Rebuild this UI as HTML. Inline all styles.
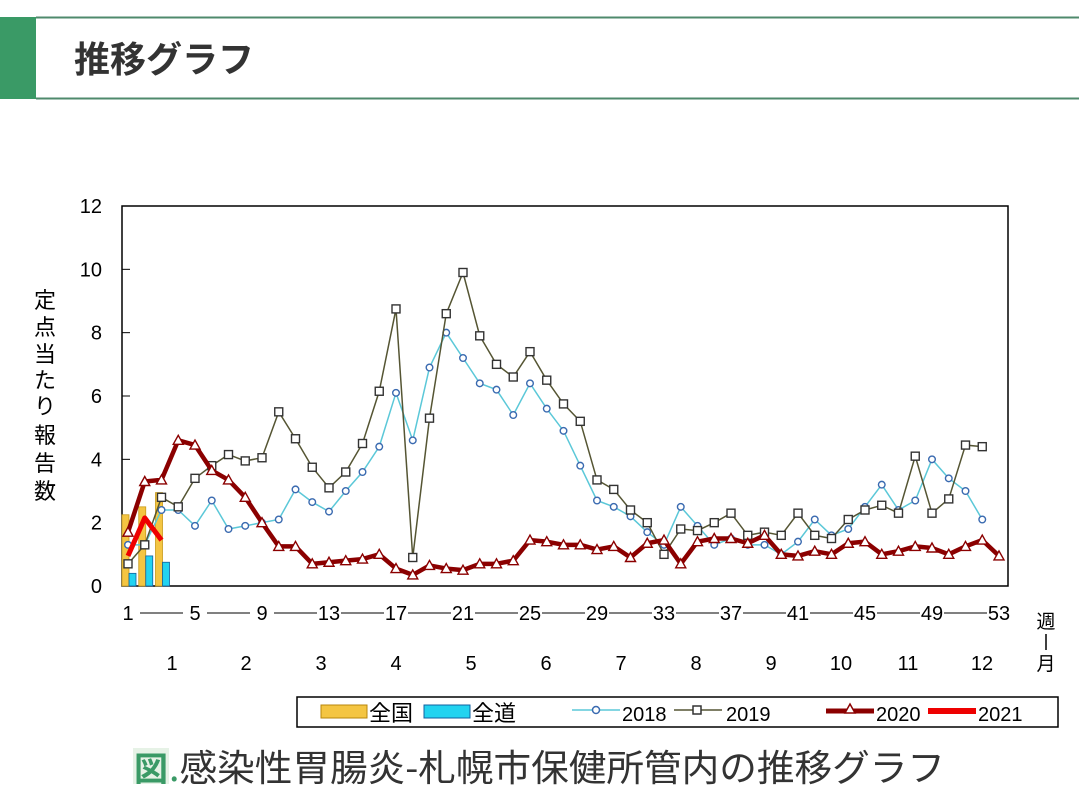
<!DOCTYPE html>
<html><head><meta charset="utf-8"><style>
body{margin:0;background:#fff;width:1079px;height:805px;overflow:hidden;font-family:"Liberation Sans","Noto Sans CJK JP",sans-serif}
</style></head><body>
<svg id="s" width="1079" height="805" xmlns="http://www.w3.org/2000/svg" font-family="Liberation Sans, Noto Sans CJK JP, sans-serif">
<rect x="0" y="17" width="36" height="82" fill="#3a9a66"/>
<line x1="36" y1="17.5" x2="1079" y2="17.5" stroke="#4f8a6c" stroke-width="2"/>
<line x1="36" y1="98.5" x2="1079" y2="98.5" stroke="#4f8a6c" stroke-width="2"/>
<text x="74" y="72" font-size="36" font-weight="bold" fill="#333" font-family="Noto Sans CJK JP, sans-serif">推移グラフ</text>
<rect x="122" y="206" width="886" height="380" fill="#fff" stroke="#000" stroke-width="1.5"/>
<g id="g"></g>
<text x="1046" y="628" font-size="19" text-anchor="middle" font-family="Noto Sans CJK JP, sans-serif">週</text>
<line x1="1046" y1="634" x2="1046" y2="650" stroke="#000" stroke-width="1.5"/>
<text x="1046" y="670" font-size="19" text-anchor="middle" font-family="Noto Sans CJK JP, sans-serif">月</text>
<g font-size="22" font-family="Noto Sans CJK JP, sans-serif" text-anchor="middle">
<text x="45" y="308">定</text><text x="45" y="335">点</text><text x="45" y="362">当</text><text x="45" y="388">た</text><text x="45" y="414">り</text><text x="45" y="443">報</text><text x="45" y="471">告</text><text x="45" y="499">数</text>
</g>
<rect x="297" y="697" width="761" height="30" fill="#fff" stroke="#000" stroke-width="1.5"/>
<rect x="321" y="705" width="46" height="13" fill="#f4c542" stroke="#b8860b"/>
<text x="369" y="721" font-size="22" font-family="Noto Sans CJK JP, sans-serif">全国</text>
<rect x="424" y="705" width="46" height="13" fill="#22d3f0" stroke="#1060a0"/>
<text x="472" y="721" font-size="22" font-family="Noto Sans CJK JP, sans-serif">全道</text>
<line x1="572" y1="710" x2="620" y2="710" stroke="#5bc8d8" stroke-width="1.5"/><circle cx="596" cy="710" r="3.5" fill="#fff" stroke="#3a6ab0" stroke-width="1.5"/>
<text x="622" y="721" font-size="20">2018</text>
<line x1="674" y1="710" x2="722" y2="710" stroke="#555533" stroke-width="1.5"/><rect x="693" y="706" width="8" height="8" fill="#fff" stroke="#333" stroke-width="1.5"/>
<text x="726" y="721" font-size="20">2019</text>
<line x1="826" y1="711" x2="874" y2="711" stroke="#8b0000" stroke-width="5"/><path d="M850 704 L855 713 L845 713Z" fill="#fff" stroke="#8b0000" stroke-width="1.5"/>
<text x="876" y="721" font-size="20">2020</text>
<line x1="928" y1="711" x2="976" y2="711" stroke="#ee0000" stroke-width="6"/>
<text x="978" y="721" font-size="20">2021</text>
<rect x="133" y="748" width="36" height="36" fill="#e6f2e6"/>
<text x="134" y="781" font-size="34" font-weight="bold" fill="#3a9a66" font-family="Noto Sans CJK JP, sans-serif">図</text>
<text x="169" y="781" font-size="37" fill="#333" font-family="Noto Sans CJK JP, sans-serif" textLength="776" lengthAdjust="spacingAndGlyphs"><tspan fill="#3a9a66">.</tspan>感染性胃腸炎-札幌市保健所管内の推移グラフ</text>
</svg>
<script>
var g=document.getElementById('g'),h='';
function X(w){return 128+(w-1)*16.75}
function Y(v){return 586-v*31.667}
for(var i=0;i<=12;i+=2){var y=Y(i);h+='<text x="102" y="'+(y+7)+'" font-size="20" text-anchor="end">'+i+'</text>';if(i>0&&i<12)h+='<line x1="122" y1="'+y+'" x2="130" y2="'+y+'" stroke="#000"/>';}
var wk=[1,5,9,13,17,21,25,29,33,37,41,45,49,53];
for(var i=0;i<wk.length;i++){var x=X(wk[i]);h+='<text x="'+x+'" y="620" font-size="20" text-anchor="middle">'+wk[i]+'</text>';if(i<wk.length-1)h+='<line x1="'+(x+12)+'" y1="613" x2="'+(X(wk[i+1])-12)+'" y2="613" stroke="#000"/>';}
var mx=[172,246,321,396,471,546,621,696,771,841,908,982];
for(var i=0;i<12;i++)h+='<text x="'+mx[i]+'" y="670" font-size="20" text-anchor="middle">'+(i+1)+'</text>';
var nb=[2.25,2.5,2.95],db=[0.4,0.95,0.75];
for(var i=0;i<3;i++){var x=X(i+1);h+='<rect x="'+(x-6)+'" y="'+Y(nb[i])+'" width="7" height="'+(nb[i]*31.667)+'" fill="#f4c542" stroke="#c89a1a" stroke-width="0.8"/>';h+='<rect x="'+(x+1)+'" y="'+Y(db[i])+'" width="7" height="'+(db[i]*31.667)+'" fill="#22d3f0" stroke="#1060a0" stroke-width="0.8"/>';}
var d18=[1.3,1.3,2.4,2.4,1.9,2.7,1.8,1.9,2.0,2.1,3.05,2.65,2.35,3.0,3.6,4.4,6.1,4.6,6.9,8.0,7.2,6.4,6.2,5.4,6.4,5.6,4.9,3.8,2.7,2.5,2.2,1.7,1.3,2.5,1.9,1.3,1.5,1.3,1.3,1.0,1.4,2.1,1.6,1.8,2.5,3.2,2.4,2.7,4.0,3.4,3.0,2.1];
var d19=[0.7,1.3,2.8,2.5,3.4,3.8,4.15,3.95,4.05,5.5,4.65,3.75,3.1,3.6,4.5,6.15,8.75,0.9,5.3,8.6,9.9,7.9,7.0,6.6,7.4,6.5,5.75,5.2,3.35,3.05,2.4,2.0,1.0,1.8,1.75,2.0,2.3,1.6,1.7,1.6,2.3,1.6,1.5,2.1,2.4,2.55,2.3,4.1,2.3,2.75,4.45,4.4];
var d20=[1.7,3.3,3.35,4.6,4.45,3.65,3.35,2.8,2.0,1.25,1.25,0.7,0.75,0.8,0.85,1.0,0.55,0.35,0.65,0.55,0.5,0.7,0.7,0.8,1.45,1.4,1.3,1.3,1.15,1.25,0.9,1.35,1.45,0.7,1.4,1.5,1.5,1.35,1.6,1.0,0.95,1.1,1.0,1.35,1.4,1.0,1.1,1.25,1.2,1.0,1.25,1.45,1.45,0.95];
d20=d20.slice(0,53);d20[52]=0.95;d20[51]=1.45;
function pts(d){return d.map(function(v,i){return X(i+1)+','+Y(v)}).join(' ')}
h+='<polyline points="'+pts(d18)+'" fill="none" stroke="#5bc8d8" stroke-width="1.5"/>';
d18.forEach(function(v,i){h+='<circle cx="'+X(i+1)+'" cy="'+Y(v)+'" r="3.3" fill="#fff" stroke="#3a6ab0" stroke-width="1.4"/>'});
h+='<polyline points="'+pts(d19)+'" fill="none" stroke="#555533" stroke-width="1.5"/>';
d19.forEach(function(v,i){h+='<rect x="'+(X(i+1)-4)+'" y="'+(Y(v)-4)+'" width="8" height="8" fill="#fff" stroke="#333" stroke-width="1.4"/>'});
h+='<polyline points="'+pts(d20)+'" fill="none" stroke="#8b0000" stroke-width="4.5" stroke-linejoin="round"/>';
d20.forEach(function(v,i){var x=X(i+1),y=Y(v);h+='<path d="M'+x+' '+(y-5)+' L'+(x+5)+' '+(y+4)+' L'+(x-5)+' '+(y+4)+'Z" fill="#fff" stroke="#8b0000" stroke-width="1.4"/>'});
h+='<polyline points="'+pts([0.95,2.15,1.45])+'" fill="none" stroke="#ee0000" stroke-width="5" stroke-linejoin="round"/>';
g.innerHTML=h;
</script>
</body></html>
